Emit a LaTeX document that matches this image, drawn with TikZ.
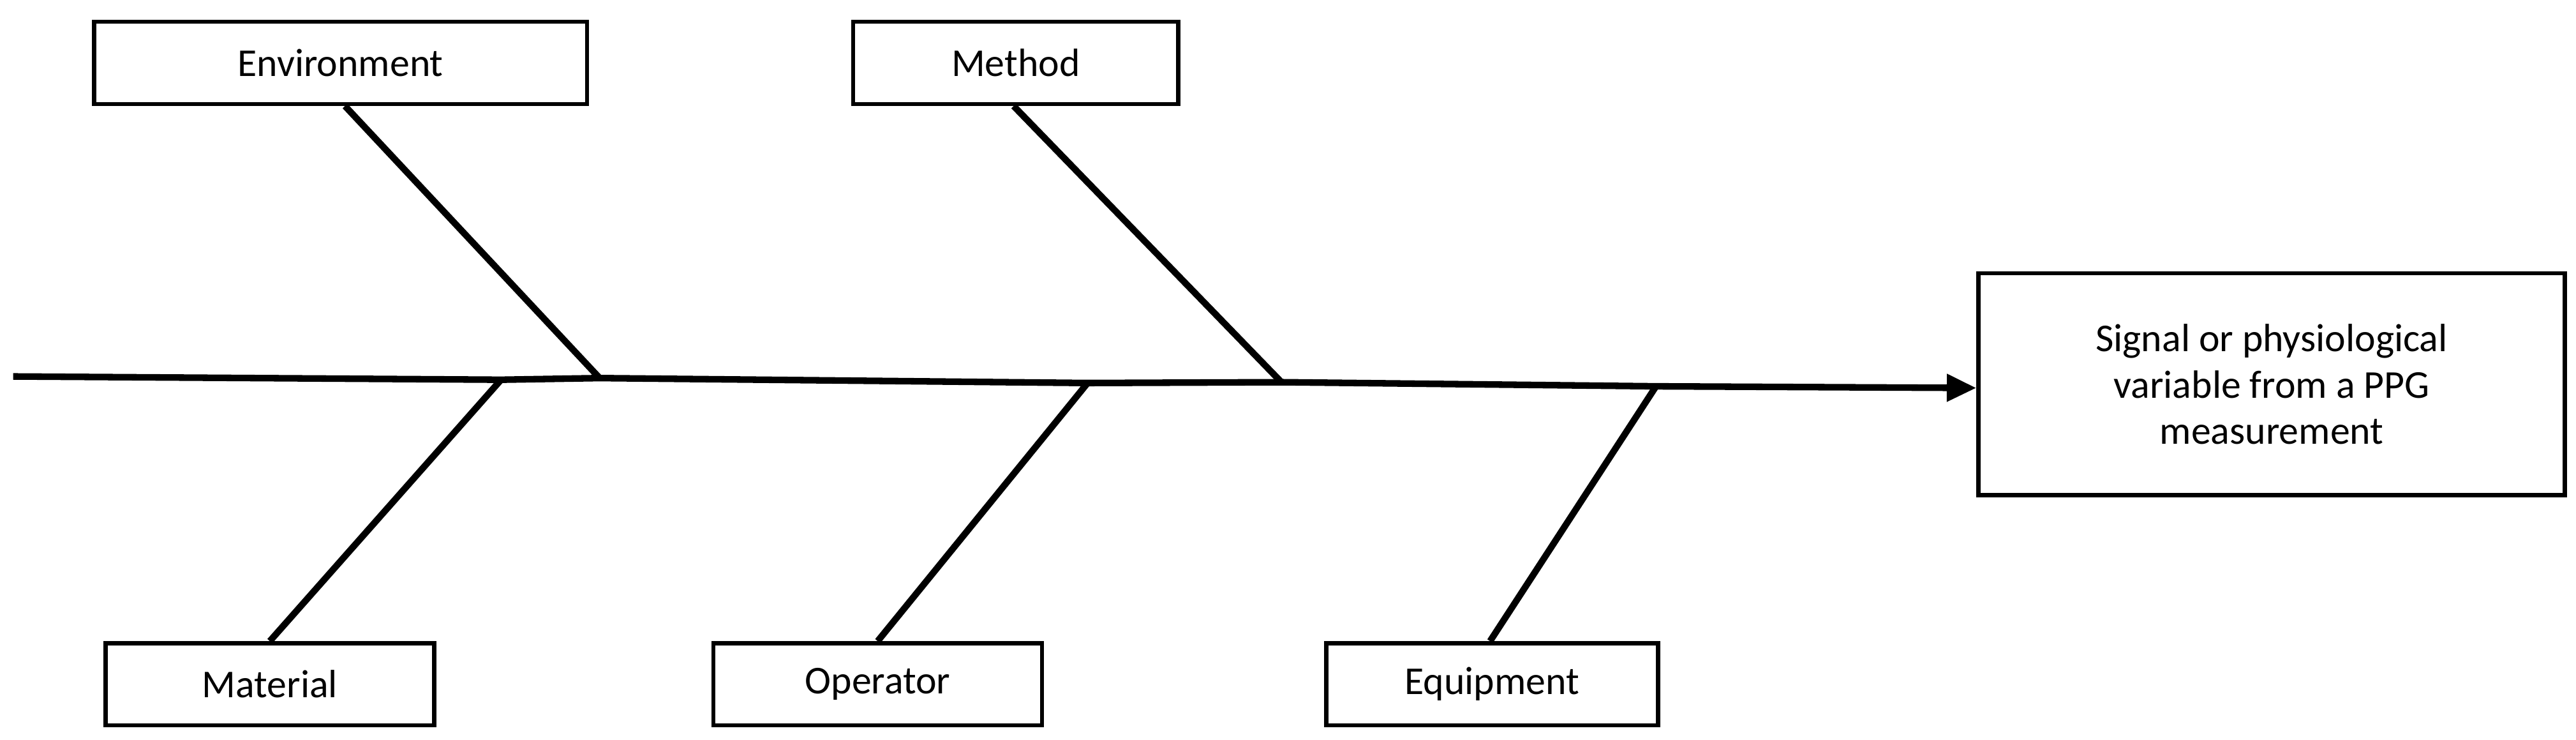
\documentclass[tikz,border=0pt]{standalone}
\usepackage{fontspec}
\setmainfont{Carlito}
\usetikzlibrary{arrows.meta}
\begin{document}
\begin{tikzpicture}[x=1pt,y=-1pt,
  cat/.style={draw,line width=2.5pt,minimum width=200pt,minimum height=50pt,font=\fontsize{24}{28}\selectfont,inner sep=0pt},
  bone/.style={line width=4pt}]
\useasboundingbox (0,0) rectangle (1568,450);
\node[cat,minimum width=300pt,anchor=north west] (env) at (56,12) {Environment};
\node[cat,minimum width=198pt,anchor=north west] (met) at (518,12) {Method};
\node[cat,anchor=north west] (mat) at (63,390) {Material};
\node[cat,anchor=north west] (ope) at (433,390) {Operator};
\node[cat,minimum width=202pt,anchor=north west] (equ) at (806,390) {Equipment};
\node[cat,minimum width=357pt,minimum height=135pt,anchor=north west,align=center] (out) at (1203,165) {Signal or physiological\\variable from a PPG\\measurement};
\coordinate (s0) at (8,229);
\coordinate (j1) at (365,230);
\coordinate (j2) at (305,231);
\coordinate (j3) at (662,233);
\coordinate (j4) at (780,232.5);
\coordinate (j5) at (1008,235);
\draw[bone,-{Triangle[length=18pt,width=16pt]}] (s0) -- (j2) -- (j1) -- (j3) -- (j4) -- (j5) -- (out.west |- 0,236);
\draw[bone] (env.south -| 210,0) -- (j1);
\draw[bone] (met.south -| 617,0) -- (j4);
\draw[bone] (mat.north) -- (j2);
\draw[bone] (ope.north) -- (j3);
\draw[bone] (equ.north -| 907,0) -- (j5);
\end{tikzpicture}
\end{document}
